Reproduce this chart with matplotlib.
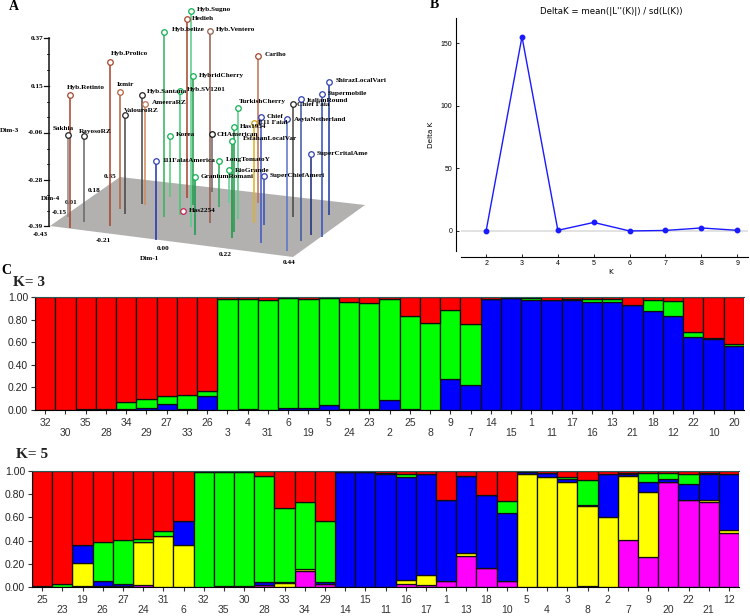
import matplotlib
matplotlib.use('Agg')
import matplotlib.pyplot as plt
from matplotlib.patches import Polygon

W, H = 750, 616

# panel A, positions (projected 3D, so picture scale)
acc_names = ['Hyb.Retinto', 'Hyb.Prolico', 'Izmir', 'ValouroRZ', 'Hyb.Santana', 'AmeeraRZ',
             'Hyb.belize', 'Hyb.Sugno', 'Hedieh', 'HybridCherry', 'Hyb.SV1201', 'Hyb.Ventero',
             'Cariho', 'TurkishCherry', 'Has1954', 'Chief', 'E11 Faial', 'AsyiaNetherland',
             'Chief Faia', 'ItalianRound', 'Supermobile', 'ShirazLocalVari', 'SuperCritalAme',
             'SuperChiefAmeri', 'CHAmerican', 'EsfahanLocalVar', 'LongTomatoY', 'RioGrande',
             'GraniumRomani', 'Has2254', 'Korea', '111FalatAmerica', 'Sakhia', 'RayosoRZ']
acc_x = [70, 110, 120, 125, 142, 145, 164, 191, 187, 193, 180, 210, 258, 238, 234, 261, 254, 287,
         293, 301, 322, 329, 311, 264, 212, 232, 219, 229, 195, 183, 170, 156, 68, 84]
acc_top = [95, 62, 92, 115, 95, 104, 32, 11, 19, 76, 91, 31, 56, 108, 127, 117, 123, 119,
           104, 99, 94, 82, 154, 176, 134, 141, 161, 170, 177, 211, 136, 161, 135, 136]
acc_base = [228, 226, 209, 214, 204, 205, 217, 227, 198, 205, 215, 223, 203, 219, 232, 243, 223, 251,
            217, 241, 237, 215, 235, 225, 192, 238, 207, 203, 235, 215, 197, 240, 217, 222]
acc_stem = ['#a5442a', '#a5442a', '#b5603c', '#444444', '#444444', '#cf8a5a',
            '#2fb35a', '#55cc88', '#a5442a', '#1f9a4a', '#3ccb6e', '#9a5a48',
            '#c0714f', '#55cc88', '#1f9a4a', '#3f55c0', '#e0b020', '#5a74c8',
            '#444444', '#3f55a0', '#2f4fc0', '#1f3a9a', '#1a2a7a',
            '#2f4fc0', '#666666', '#109a3a', '#2fa85a', '#66cc99',
            '#109a4a', '#cc2255', '#55cc77', '#2030b0', '#888888', '#666666']
acc_ring = ['#a5442a', '#a5442a', '#b5603c', '#222222', '#222222', '#c0714f',
            '#10b050', '#10b050', '#a5442a', '#10b050', '#10b050', '#9a5a48',
            '#a5442a', '#10b050', '#10b050', '#3040b0', '#d0a010', '#3040b0',
            '#222222', '#3040b0', '#3040b0', '#3040b0', '#3040b0',
            '#3040b0', '#111111', '#10b050', '#10b050', '#10b050',
            '#10b050', '#cc2255', '#10b050', '#3040b0', '#222222', '#222222']
label_x = [67, 111, 117, 124, 147, 152, 172, 197, 192, 199, 187, 216, 265, 239, 240, 267, 258, 294,
           297, 307, 328, 336, 317, 270, 217, 243, 226, 235, 201, 189, 176, 162, 53, 79]
label_y = [87, 54, 84, 110, 92, 102, 30, 9, 19, 76, 89, 29, 55, 102, 127, 116, 123, 119,
           104, 100, 93, 80, 154, 175, 135, 139, 160, 170, 177, 210, 134, 161, 128, 131]
plane = [(50, 226), (120, 177), (365, 205), (293, 257)]
dim3_ticks = [0.37, 0.15, -0.06, -0.28, -0.39]
dim3_y = [38, 86, 133, 180, 226]
dim1_ticks = ['-0.43', '-0.21', '0.00', '0.22', '0.44']
dim1_x = [40, 103, 163, 225, 289]
dim1_y = [234, 240, 248, 254, 262]
dim4_ticks = ['-0.15', '0.01', '0.18', '0.35']
dim4_x = [59, 71, 94, 110]
dim4_y = [213, 203, 190, 177]

# panel B
k_vals = [2, 3, 4, 5, 6, 7, 8, 9]
delta_k = [0, 155, 0.5, 6.8, 0, 0.4, 2.4, 0.5]

# panel C, K=3
k3_labels = [32, 30, 35, 28, 34, 29, 27, 33, 26, 3, 4, 31, 6, 19, 5, 24, 23, 2, 25, 8, 9, 7, 14, 15,
             1, 11, 17, 16, 13, 21, 18, 12, 22, 10, 20]
k3_blue = [0, 0, 0, 0, .01, .02, .055, .005, .125, 0, .008, .003, .02, .02, .04, .005, .005, .09,
           .005, 0, .275, .225, .985, .99, .975, .97, .97, .96, .96, .925, .875, .83, .65, .625, .565]
k3_green = [0, 0, .005, .005, .06, .08, .065, .13, .04, .985, .975, .97, .97, .96, .95, .95, .94, .895,
            .825, .77, .61, .54, 0, 0, .02, .005, .015, .02, .025, 0, .095, .135, .04, .015, .02]

# panel C, K=5
k5_labels = [25, 23, 19, 26, 27, 24, 31, 6, 32, 35, 30, 28, 33, 34, 29, 14, 15, 11, 16, 17, 1, 13, 18,
             10, 5, 4, 3, 8, 2, 7, 9, 20, 22, 21, 12]
k5_magenta = [0, 0, .01, .005, 0, .015, 0, 0, 0, .005, .005, .02, 0, .14, .03, 0, 0, 0, .03, .02, .055,
              .265, .16, .05, 0, 0, 0, .01, 0, .405, .26, .905, .75, .73, .465]
k5_yellow = [0, 0, .2, 0, .005, .37, .44, .36, 0, 0, 0, 0, .035, .015, 0, 0, 0, 0, .03, .08, 0,
             .03, 0, 0, .975, .945, .905, .69, .6, .555, .56, 0, 0, .02, .03]
k5_blue = [0, 0, .155, .045, .025, .005, 0, .205, 0, 0, 0, .02, .01, 0, .015, .99, .99, .97, .89, .875,
           .695, .66, .63, .585, .02, .035, .03, .01, .375, .01, .085, .03, .135, .225, .475]
k5_green = [.005, .03, 0, .34, .375, .02, .04, 0, .99, .985, .985, .92, .64, .575, .525, 0, 0, .01, .02, 0,
            0, 0, 0, .105, 0, 0, .015, .21, 0, .01, .08, .045, .085, .01, 0]


def px_axes(fig, left, top, right, bottom):
    return fig.add_axes([left / W, 1 - bottom / H, (right - left) / W, (bottom - top) / H])


def structure_plot(fig, box, labels, layers, colors):
    ax = px_axes(fig, *box)
    pos = list(range(len(labels)))
    bottom = [0.0] * len(labels)
    for vals, col in zip(layers, colors):
        ax.bar(pos, vals, 1.0, bottom=bottom, color=col, edgecolor='#101010', linewidth=0.9)
        bottom = [b + v for b, v in zip(bottom, vals)]
    rest = [1 - b for b in bottom]
    ax.bar(pos, rest, 1.0, bottom=bottom, color='#ff0000', edgecolor='#101010', linewidth=0.9)
    ax.set_xlim(-0.5, len(labels) - 0.5)
    ax.set_ylim(0, 1)
    ax.set_yticks([0, .2, .4, .6, .8, 1])
    ax.set_yticklabels(['%.2f' % v for v in [0, .2, .4, .6, .8, 1]], fontsize=7.5, color='#222222')
    ax.set_xticks(pos)
    ax.set_xticklabels(labels, fontsize=7.5, color='#333333')
    for i, t in enumerate(ax.xaxis.get_major_ticks()):
        t.set_pad(2.5 if i % 2 == 0 else 10)
    ax.tick_params(axis='x', length=3, width=0.8, color='#333333')
    ax.tick_params(axis='y', length=3, width=0.8, color='#333333', pad=2)
    ax.spines['right'].set_visible(False)
    ax.spines['top'].set_color('#2a5a55')
    return ax


plt.rcParams['font.family'] = ['Liberation Sans', 'DejaVu Sans']
fig = plt.figure(figsize=(7.5, 6.16), dpi=100)

# panel A and the free text, in an overlay with picture scale
ax = fig.add_axes([0, 0, 1, 1])
ax.set_xlim(0, W)
ax.set_ylim(H, 0)
ax.axis('off')
ax.add_patch(Polygon(plane, closed=True, facecolor='#b3b0b0', edgecolor='none', zorder=1))
ax.plot([49, 49], [dim3_y[0], dim3_y[-1]], color='#111111', lw=1.1, zorder=2)
serif = dict(family=['Liberation Serif', 'DejaVu Serif'], fontweight='bold')
for v, y in zip(dim3_ticks, dim3_y):
    ax.plot([44, 49], [y, y], color='#111111', lw=0.9, zorder=2)
    ax.text(43, y, '%.2f' % v, ha='right', va='center', fontsize=5.2, **serif)
# small ticks between the labelled ones
for y0, y1 in zip(dim3_y[:-1], dim3_y[1:]):
    for f in (1 / 3, 2 / 3):
        ym = y0 + (y1 - y0) * f
        ax.plot([46.5, 49], [ym, ym], color='#111111', lw=0.6, zorder=2)
for xt, yt, s in zip(dim1_x, dim1_y, dim1_ticks):
    ax.text(xt, yt, s, ha='center', va='center', fontsize=5.2, **serif)
for xt, yt, s in zip(dim4_x, dim4_y, dim4_ticks):
    ax.text(xt, yt, s, ha='center', va='center', fontsize=5.2, **serif)
ax.text(9, 130, 'Dim-3', ha='center', va='center', fontsize=5.2, **serif)
ax.text(50, 199, 'Dim-4', ha='center', va='center', fontsize=5.2, **serif)
ax.text(149, 259, 'Dim-1', ha='center', va='center', fontsize=5.2, **serif)
for i, name in enumerate(acc_names):
    ax.plot([acc_x[i], acc_x[i]], [acc_top[i], acc_base[i]], color=acc_stem[i], lw=1.1, zorder=3,
            solid_capstyle='butt')
    ax.plot(acc_x[i], acc_top[i], 'o', ms=4, mfc='white', mec=acc_ring[i], mew=0.9, zorder=4)
    ax.text(label_x[i], label_y[i], name, ha='left', va='center', fontsize=5.2, zorder=5, **serif)

ax.text(14, 7, 'A', ha='center', va='center', fontsize=10, **serif)
ax.text(434, 5, 'B', ha='center', va='center', fontsize=10, **serif)
ax.text(1, 270, 'C', ha='left', va='center', fontsize=10, **serif)
ax.text(13, 283, 'K= 3', ha='left', va='center', fontsize=11, color='#222222', **serif)
ax.text(16, 454, 'K= 5', ha='left', va='center', fontsize=11, color='#222222', **serif)

# panel B
axb = px_axes(fig, 461, 18, 748, 251)
axb.axhline(0, color='#dddddd', lw=1.2, zorder=1)
axb.plot(k_vals, delta_k, '-o', color='#1a1aff', lw=1.0, ms=3.2, zorder=3)
axb.set_xlim(1.3, 9.3)
axb.set_ylim(-16, 170)
axb.set_xticks(k_vals)
axb.set_yticks([0, 50, 100, 150])
axb.tick_params(labelsize=5, length=2.5, width=0.6, direction='in', top=False, right=False, pad=2.5)
for lab in axb.get_xticklabels() + axb.get_yticklabels():
    lab.set_family(['DejaVu Sans'])
axb.spines['top'].set_visible(False)
axb.spines['right'].set_visible(False)
axb.spines['left'].set_position(('outward', 3.6))
axb.spines['bottom'].set_position(('outward', 4.3))
axb.set_xlabel('K', fontsize=5.2, family=['DejaVu Sans'])
axb.set_ylabel('Delta K', fontsize=5.2, family=['DejaVu Sans'])
axb.xaxis.set_label_coords(0.523, -0.077)
axb.yaxis.set_label_coords(-0.094, 0.5)
axb.set_title("DeltaK = mean(|L''(K)|) / sd(L(K))", fontsize=6.2, family=['DejaVu Sans'], x=0.523, pad=3)

# panel C
structure_plot(fig, (35, 297, 744, 410), k3_labels, [k3_blue, k3_green], ['#0000ff', '#00ff00'])
structure_plot(fig, (32, 471, 739, 587), k5_labels, [k5_magenta, k5_yellow, k5_blue, k5_green],
               ['#ff00ff', '#ffff00', '#0000ff', '#00ff00'])

fig.savefig('out.png', dpi=100)
